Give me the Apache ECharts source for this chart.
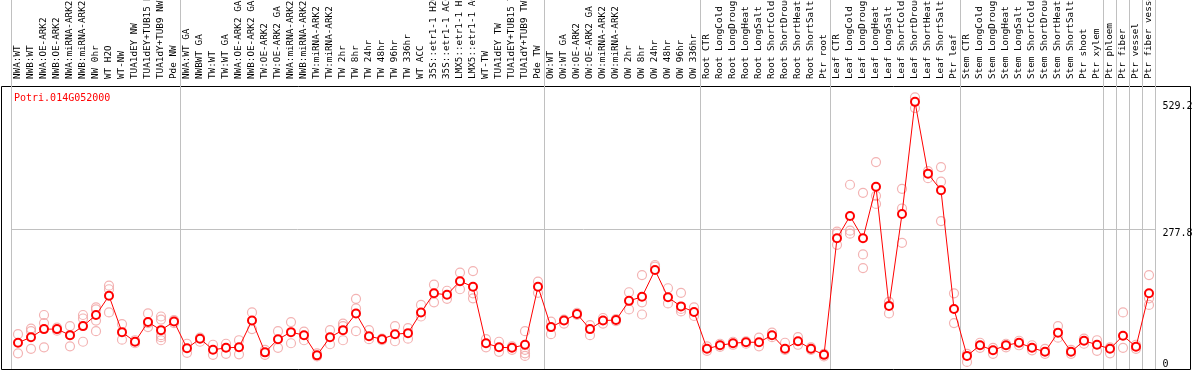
<!DOCTYPE html>
<html>
<head>
<meta charset="utf-8">
<script src="https://cdn.jsdelivr.net/npm/echarts@6/dist/echarts.min.js"></script>
<style>
  html, body { margin: 0; padding: 0; background: #fff; }
  #main { width: 1194px; height: 370px; }
</style>
</head>
<body>
<div id="main"></div>
<script>
// sample names, left to right
var categories = [
    'NWA:WT', 'NWB:WT', 'NWA:OE-ARK2', 'NWB:OE-ARK2', 'NWA:miRNA-ARK2', 'NWB:miRNA-ARK2', 'NW 0hr', 'WT H2O', 'WT-NW',
    'TUA1dEY NW', 'TUA1dEY+TUB15 NW', 'TUA1dY+TUB9 NW', 'Pde NW',
    'NWA:WT GA', 'NWBWT GA', 'TW:WT', 'TW:WT GA', 'NWA:OE-ARK2 GA', 'NWB:OE-ARK2 GA', 'TW:OE-ARK2', 'TW:OE-ARK2 GA',
    'NWA:miRNA-ARK2', 'NWB:miRNA-ARK2', 'TW:miRNA-ARK2', 'TW:miRNA-ARK2', 'TW 2hr', 'TW 8hr', 'TW 24hr', 'TW 48hr',
    'TW 96hr', 'TW 336hr', 'WT ACC', '35S::etr1-1 H2O', '35S::etr1-1 ACC', 'LMX5::etr1-1 H2O', 'LMX5::etr1-1 ACC',
    'WT-TW', 'TUA1dEY TW', 'TUA1dEY+TUB15 TW', 'TUA1dY+TUB9 TW', 'Pde TW',
    'OW:WT', 'OW:WT GA', 'OW:OE-ARK2', 'OW:OE-ARK2 GA', 'OW:miRNA-ARK2', 'OW:miRNA-ARK2',
    'OW 2hr', 'OW 8hr', 'OW 24hr', 'OW 48hr', 'OW 96hr', 'OW 336hr',
    'Root CTR', 'Root LongCold', 'Root LongDrought', 'Root LongHeat', 'Root LongSalt',
    'Root ShortCold', 'Root ShortDrought', 'Root ShortHeat', 'Root ShortSalt', 'Ptr root',
    'Leaf CTR', 'Leaf LongCold', 'Leaf LongDrought', 'Leaf LongHeat', 'Leaf LongSalt',
    'Leaf ShortCold', 'Leaf ShortDrought', 'Leaf ShortHeat', 'Leaf ShortSalt', 'Ptr leaf',
    'Stem CTR', 'Stem LongCold', 'Stem LongDrought', 'Stem LongHeat', 'Stem LongSalt',
    'Stem ShortCold', 'Stem ShortDrought', 'Stem ShortHeat', 'Stem ShortSalt', 'Ptr shoot', 'Ptr xylem',
    'Ptr phloem', 'Ptr fiber', 'Ptr vessel', 'Ptr fiber vessel'
];

// first index of each sample group (gray separators)
var groupStarts = [0, 13, 41, 53, 63, 73, 84, 85, 86, 87, 88];

// mean expression per sample
var means = [
    52, 63, 79, 79, 67, 85, 107, 145, 73, 54, 93, 77, 94,
    41, 60, 38, 42, 43, 96, 33, 59, 73, 67, 27, 63, 77, 110, 65, 59, 69, 71, 112, 150, 147, 174, 163, 51, 43, 42, 48, 163,
    83, 96, 109, 79, 96, 97, 135, 143, 196, 142, 124, 113,
    40, 47, 51, 53, 53, 67, 40, 55, 40, 28,
    259, 303, 259, 361, 125, 307, 529.2, 387, 354, 119,
    26, 47, 37, 47, 52, 42, 34, 72, 34, 56, 48, 40, 66, 44, 150
];

// replicate values per sample
var replicates = [
    [69, 31], [80, 75, 40], [107, 91, 43], [82, 76], [85, 67, 45], [107, 100, 54], [122, 118, 96, 75],
    [165, 158, 112], [89, 58], [57, 51], [110, 91, 83], [104, 98, 67, 63, 57], [97, 91],
    [50, 32], [62, 54], [48, 28], [50, 30], [57, 29], [112, 79], [38, 28], [75, 42], [93, 51], [74, 57],
    [31, 25], [77, 49], [90, 85, 57], [139, 120, 75], [77, 59], [60, 57], [85, 55], [81, 60], [127, 104],
    [167, 132], [155, 139], [191, 158], [194, 150, 140], [59, 43], [54, 34], [45, 38], [75, 38, 31, 26], [173, 151],
    [94, 69], [98, 90], [111, 107], [87, 67], [101, 90], [99, 95], [152, 118], [186, 132, 108], [206, 203],
    [160, 130], [151, 119, 114], [122, 105],
    [45, 36], [50, 44], [54, 48], [55, 50], [62, 45], [72, 63], [52, 38], [63, 48], [43, 38], [30, 25],
    [272, 268, 246], [365, 274, 268], [349, 227, 200], [410, 343, 327], [133, 110], [357, 318, 250],
    [538, 517], [378, 392], [400, 371, 293], [150, 91],
    [30, 14], [52, 42], [42, 30], [50, 43], [56, 47], [47, 37], [40, 30], [85, 62], [38, 30], [60, 50],
    [57, 36], [43, 31], [112, 42], [48, 40], [186, 140, 127]
];

var yTicks = [0, 277.8, 529.2];
var geneName = 'Potri.014G052000';

function drawExpression() {
    var dom = document.getElementById('main');
    var myChart = echarts.init(dom);
    var mono = 'DejaVu Sans Mono';

    var repPoints = [];
    for (var i = 0; i < replicates.length; i++) {
        for (var j = 0; j < replicates[i].length; j++) {
            repPoints.push([i, replicates[i][j]]);
        }
    }

    var option = {
        animation: false,
        title: {
            text: geneName,
            left: 9,
            top: 88,
            textStyle: { color: '#ff0000', fontFamily: mono, fontSize: 10, fontWeight: 'normal' }
        },
        grid: { left: 11.5, width: 1144, top: 0, height: 369, outerBoundsMode: 'none' },
        xAxis: {
            type: 'category',
            data: categories,
            position: 'top',
            offset: -86,
            axisLine: { show: false },
            axisTick: { show: false },
            axisLabel: { interval: 0, rotate: 90, fontFamily: mono, fontSize: 9.3, color: '#000', margin: 7 },
            splitLine: {
                show: true,
                interval: function (idx) { return groupStarts.indexOf(idx) >= 0; },
                lineStyle: { color: '#c0c0c0', width: 1 }
            }
        },
        yAxis: [
            {
                type: 'value', position: 'right', min: 0, max: 731,
                axisLine: { show: false }, axisTick: { show: false }, splitLine: { show: false },
                axisLabel: {
                    customValues: yTicks.slice(1), verticalAlign: 'top', align: 'left', margin: 7,
                    fontFamily: mono, fontSize: 10, color: '#000'
                }
            },
            {
                type: 'value', position: 'right', min: 0, max: 731,
                axisLine: { show: false }, axisTick: { show: false }, splitLine: { show: false },
                axisLabel: {
                    customValues: yTicks.slice(0, 1), verticalAlign: 'bottom', align: 'left', margin: 7,
                    fontFamily: mono, fontSize: 10, color: '#000'
                }
            }
        ],
        graphic: [{
            type: 'rect',
            shape: { x: 1.5, y: 86.5, width: 1189, height: 283 },
            style: { fill: 'none', stroke: '#000', lineWidth: 1 },
            silent: true
        }],
        series: [
            {
                name: 'replicates',
                type: 'scatter',
                data: repPoints,
                symbol: 'circle',
                symbolSize: 9,
                itemStyle: { color: 'transparent', borderColor: '#f0a0a0', borderWidth: 1.2 },
                z: 2
            },
            {
                name: 'mean',
                type: 'line',
                data: means,
                symbol: 'emptyCircle',
                symbolSize: 8,
                lineStyle: { color: '#ff0000', width: 1 },
                itemStyle: { color: '#ff0000', borderWidth: 1.2 },
                z: 3,
                markLine: {
                    silent: true,
                    symbol: 'none',
                    label: { show: false },
                    lineStyle: { color: '#c0c0c0', type: 'solid', width: 1 },
                    data: [{ yAxis: yTicks[1] }],
                    z: 1
                }
            }
        ]
    };
    myChart.setOption(option, true);
    window.addEventListener('resize', function () {
        myChart.resize();
    });
}
drawExpression();
</script>
</body>
</html>
